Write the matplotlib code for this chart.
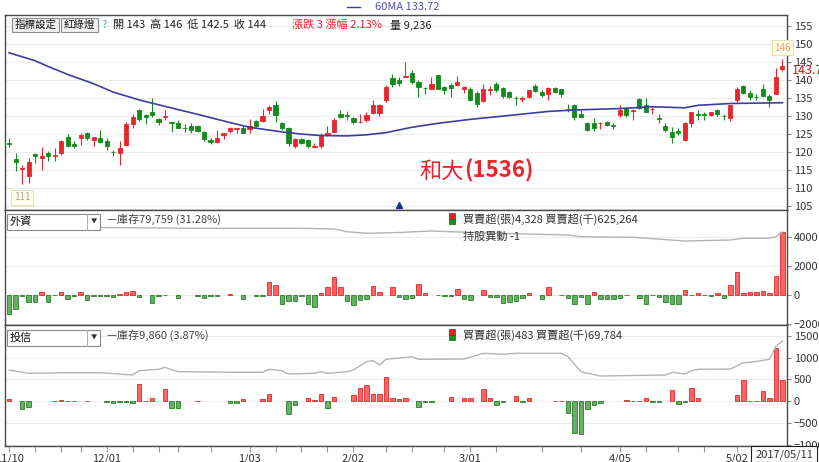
import numpy as np
import matplotlib.pyplot as plt
from matplotlib.patches import Rectangle
from matplotlib.lines import Line2D

plt.rcParams['font.family'] = ['Noto Sans CJK TC', 'DejaVu Sans']

W, H = 820, 462

# daily candles 2016/11/10 - 2017/05/11
opens = [122.4, 118.1, 115.2, 113.3, 119.5, 118.4, 119.7, 119.0, 119.7, 124.1,
         122.2, 123.9, 125.2, 123.4, 124.0, 123.2, 120.1, 119.7, 122.0, 127.7,
         131.8, 130.3, 131.0, 129.2, 129.7, 128.3, 128.0, 126.8, 127.3, 127.2,
         125.7, 123.3, 122.8, 124.8, 125.9, 126.4, 126.6, 126.4, 128.6, 128.6,
         131.7, 133.0, 128.0, 126.6, 121.6, 123.7, 123.3, 121.5, 121.6, 124.8,
         125.7, 130.7, 130.2, 129.5, 128.3, 128.9, 131.0, 131.0, 134.4, 140.6,
         139.9, 141.0, 141.9, 139.6, 137.9, 137.6, 141.3, 138.1, 138.7, 138.7,
         137.4, 137.6, 136.4, 134.1, 137.2, 139.0, 137.8, 136.7, 135.1, 134.8,
         135.3, 138.5, 136.7, 136.2, 137.8, 137.4, 132.0, 133.0, 130.7, 128.0,
         128.2, 128.1, 128.4, 127.4, 130.3, 132.3, 131.4, 134.7, 133.0, 131.9,
         129.4, 127.3, 125.5, 125.9, 123.4, 128.0, 130.5, 130.7, 130.3, 131.7,
         130.1, 129.4, 134.4, 138.5, 136.4, 135.4, 137.6, 135.5, 136.2, 143.0]
highs = [124.0, 119.7, 116.5, 118.3, 119.7, 121.3, 120.2, 121.1, 123.4, 125.0,
         123.1, 125.4, 125.7, 124.3, 126.1, 123.9, 120.6, 123.1, 128.4, 130.5,
         132.1, 130.6, 134.9, 129.4, 131.6, 128.4, 128.9, 127.7, 128.0, 127.4,
         125.9, 123.9, 126.1, 125.4, 127.1, 126.6, 127.3, 129.1, 128.9, 132.1,
         133.2, 134.1, 128.4, 127.1, 123.9, 124.0, 123.7, 122.5, 125.2, 127.3,
         129.4, 131.6, 131.5, 129.8, 130.7, 131.0, 134.4, 133.5, 138.7, 141.7,
         140.8, 145.1, 142.9, 139.9, 138.1, 141.0, 141.5, 138.5, 139.2, 141.1,
         138.5, 138.1, 136.9, 139.0, 138.5, 139.4, 138.1, 136.9, 135.6, 135.6,
         137.6, 139.0, 137.2, 138.0, 138.1, 137.6, 133.5, 133.3, 132.1, 128.3,
         129.5, 128.4, 128.5, 128.0, 133.0, 132.6, 132.1, 135.0, 135.0, 132.6,
         130.5, 128.0, 127.1, 126.8, 128.3, 131.2, 131.7, 131.2, 131.2, 131.9,
         130.7, 133.2, 138.1, 138.7, 137.2, 136.2, 139.0, 136.2, 143.3, 146.0]
lows = [121.3, 114.7, 111.0, 111.5, 117.0, 115.1, 117.6, 117.6, 119.3, 121.6,
        121.1, 122.0, 123.3, 121.6, 122.5, 120.7, 118.8, 116.3, 121.6, 126.6,
        128.6, 127.7, 129.8, 127.5, 128.8, 125.5, 126.6, 125.7, 125.2, 125.7,
        123.1, 122.2, 122.5, 123.7, 125.2, 125.2, 125.2, 125.2, 127.0, 128.3,
        130.7, 128.4, 126.1, 121.8, 121.1, 122.2, 121.1, 121.1, 121.1, 124.6,
        125.5, 129.4, 128.9, 127.7, 128.0, 128.3, 130.7, 130.1, 133.9, 138.1,
        138.5, 140.8, 139.0, 135.3, 136.2, 137.4, 137.4, 136.2, 135.3, 138.5,
        136.5, 134.1, 132.6, 133.8, 136.0, 136.7, 134.9, 135.1, 133.2, 133.9,
        135.0, 136.7, 135.3, 134.4, 136.5, 135.3, 131.2, 128.9, 129.4, 125.9,
        125.9, 126.4, 127.3, 126.4, 129.8, 129.8, 128.9, 132.1, 131.0, 130.7,
        128.0, 125.7, 122.5, 124.8, 123.1, 127.1, 128.9, 128.9, 130.0, 130.1,
        128.9, 128.6, 133.9, 136.2, 134.4, 134.6, 135.3, 132.6, 136.2, 142.5]
closes = [122.2, 117.3, 115.6, 117.2, 118.8, 118.8, 118.8, 119.2, 123.1, 121.8,
          121.8, 124.7, 123.9, 124.1, 122.8, 121.8, 120.0, 121.1, 127.7, 129.7,
          129.1, 129.8, 130.3, 128.3, 129.9, 128.2, 126.8, 126.7, 126.1, 125.9,
          123.7, 122.8, 124.0, 125.2, 126.6, 126.6, 125.4, 127.3, 127.3, 130.1,
          132.6, 130.3, 126.6, 122.5, 123.7, 122.4, 121.6, 121.6, 124.8, 125.2,
          128.9, 129.8, 130.0, 128.3, 128.4, 130.4, 133.0, 133.2, 138.1, 139.0,
          139.2, 141.1, 139.4, 138.1, 137.8, 139.0, 137.6, 137.2, 137.8, 139.6,
          138.1, 134.6, 133.5, 137.6, 137.6, 137.2, 135.6, 135.3, 135.0, 134.9,
          137.2, 136.9, 135.8, 137.8, 136.7, 136.2, 131.9, 129.8, 129.8, 126.1,
          126.8, 128.2, 127.5, 127.3, 131.7, 130.3, 131.8, 132.3, 131.2, 132.0,
          129.3, 126.1, 124.3, 125.2, 128.0, 131.0, 130.4, 130.3, 131.0, 130.7,
          130.0, 133.0, 137.6, 136.5, 135.3, 135.3, 135.6, 134.4, 141.0, 144.0]
volume = 9236

# 60 day moving average, read at these candle numbers
ma_idx = [0, 4, 6, 9, 13, 16, 20, 24, 29, 34, 37, 42, 45, 48, 52, 55, 58, 62,
          66, 71, 76, 83, 87, 94, 99, 104, 106, 111, 119]
ma60 = [147.6, 145.4, 143.8, 141.6, 139.0, 136.7, 134.5, 132.7, 130.5, 128.2,
        126.9, 125.6, 125.0, 124.6, 124.5, 124.8, 125.4, 126.9, 128.0, 129.1,
        130.0, 131.3, 131.7, 132.1, 132.6, 132.3, 133.0, 133.5, 133.72]

# foreign investors (外資) net buy/sell in lots, and holdings
foreign_net = [-1320, -960, -70, -456, -456, 180, -520, -20, 180, -270,
               -70, 230, -320, -90, -90, -110, -180, 45, 230, 270,
               -180, 0, -550, -70, -10, 0, -230, 0, 0, -70,
               -230, -70, -70, 0, 70, 0, -250, 0, -110, -110,
               870, 680, -615, -410, -410, -110, -640, -800, 110, 520,
               1200, 520, -410, -680, -340, -270, 590, 180, 0, 520,
               -180, -300, -230, 740, 115, 0, -40, -70, -70, 390,
               -275, -345, 0, 320, -140, -140, -530, -460, -415, -230,
               115, 0, -275, 550, 0, -40, -185, -645, -140, -645,
               185, -300, -300, -300, -230, 20, 0, -230, -620, -20,
               -140, -505, -645, -645, 320, -20, 140, 20, -70, 140,
               -230, 645, 1540, 140, 230, 185, 300, 115, 1265, 4328]
foreign_hold_idx = [0, 14, 29, 45, 50, 52, 55, 60, 65, 75, 86, 88, 96, 104,
                    111, 113, 117, 118, 119]
foreign_hold = [83400, 83400, 82700, 82700, 82100, 79760, 78370, 79070, 80360,
                78370, 76900, 75430, 74910, 71700, 72570, 74040, 74170, 75431, 79759]
foreign_pct = '31.28%'
foreign_amount = 625264
foreign_change = -1

# investment trust (投信)
trust_net = [50, 0, -175, -130, 0, 0, 0, 15, 40, 15,
             10, 0, 10, 0, 0, -10, -30, -25, -15, -40,
             395, 10, 75, 0, 280, -160, -160, 0, 0, 5,
             0, 0, 0, 0, -40, -40, 55, 0, 0, 55,
             175, 0, 0, -290, -90, 0, 70, 40, 165, -150,
             100, 0, 0, 150, 300, 380, 175, 175, 555, 75,
             60, 75, 0, -130, -15, -5, 0, 0, 100, 0,
             70, 85, 0, 275, 70, -85, -15, 0, 120, -25,
             70, 0, 0, 0, 10, 10, -265, -720, -745, -175,
             -75, -40, 0, 0, 0, 40, 10, 10, 70, -25,
             -25, 0, 250, -60, -10, 300, 75, 0, 0, 0,
             0, 0, 145, 490, 15, 15, 240, 80, 1210, 483]
trust_hold_idx = [0, 3, 9, 14, 19, 20, 23, 24, 26, 35, 39, 40, 42, 43, 47, 48,
                  49, 52, 53, 55, 56, 57, 58, 62, 63, 70, 73, 76, 78, 85, 86,
                  88, 91, 101, 102, 104, 105, 106, 111, 113, 114, 117, 118, 119]
trust_hold = [7105, 6790, 6850, 6850, 6630, 7040, 7170, 7360, 6945, 6890, 6890,
              7170, 7040, 6725, 6790, 6945, 6790, 6945, 7105, 7895, 7990, 7580,
              8120, 8370, 8120, 8150, 8690, 8595, 8690, 8690, 8370, 6945, 6535,
              6630, 6890, 6725, 7040, 7170, 7200, 7800, 7830, 8120, 9377, 9860]
trust_pct = '3.87%'
trust_amount = 69784

date_ticks = [0, 15, 37, 53, 71, 94, 112]
date_labels = ['11/10', '12/01', '1/03', '2/02', '3/01', '4/05', '5/02']
week_ticks = [4, 8, 11, 19, 23, 26, 31, 41, 45, 49, 58, 62, 67, 75, 82, 88,
              98, 103, 107]
last_date = '2017/05/11'
mark_idx = 60

RED = '#e8262d'
GREEN = '#138a1c'


def px(x, y):
    # pixel position measured from the top left -> figure fraction
    return x / W, 1 - y / H


def panel(top, bottom):
    l, t = px(5, top)
    r, b = px(787, bottom)
    return fig.add_axes([l, b, r - l, t - b])


def box(x0, y0, x1, y1, fc, ec, lw=0.8, z=5):
    l, t = px(x0, y0)
    r, b = px(x1, y1)
    fig.add_artist(Rectangle((l, b), r - l, t - b, transform=fig.transFigure,
                             fc=fc, ec=ec, lw=lw, zorder=z))


def label(x, y, s, **kw):
    kw.setdefault('va', 'center')
    kw.setdefault('size', 8)
    kw.setdefault('zorder', 6)
    kw.setdefault('color', '#333333')
    fx, fy = px(x, y)
    fig.text(fx, fy, s, **kw)


fig = plt.figure(figsize=(8.2, 4.62), dpi=100)
ax1 = panel(15, 210)
ax2 = panel(210, 324.5)
ax3 = panel(324.5, 445.5)

x = np.arange(len(closes))
o, h, l, c = (np.array(v) for v in (opens, highs, lows, closes))
col = np.where(c >= o, RED, GREEN)


def net_panel(ax, net, hold_idx, hold, hold_lim):
    net = np.array(net)
    keep = net != 0
    up = net[keep] > 0
    ax.bar(x[keep], net[keep], width=0.64, color=np.where(up, '#ff6262', '#62b262'),
           edgecolor=np.where(up, '#e02a2a', '#2d7d2d'), lw=0.6, zorder=3)
    hx = ax.twinx()
    hx.plot(hold_idx, hold, color='#b4b4b4', lw=1.0)
    hx.set_ylim(*hold_lim)
    hx.set_axis_off()


net_panel(ax2, foreign_net, foreign_hold_idx, foreign_hold, (-600, 98550))
ax2.set_ylim(-2035, 5830)
ax2.set_yticks([-2000, 0, 2000, 4000])

net_panel(ax3, trust_net, trust_hold_idx, trust_hold, (-70, 11430))
ax3.set_ylim(-1008, 1755)
ax3.set_yticks([-1000, -500, 0, 500, 1000, 1500])

for ax in (ax1, ax2, ax3):
    ax.set_xlim(-0.62, 119.7)
    ax.yaxis.tick_right()
    ax.tick_params(axis='y', which='both', left=False, labelleft=False, right=True,
                   labelright=True, direction='out', length=3, width=0.8,
                   color='#888888', labelsize=8, labelcolor='#333333', pad=2)
    ax.tick_params(axis='x', bottom=False, labelbottom=False)
    ax.grid(axis='y', color='#ececec', lw=0.8)
    ax.set_axisbelow(True)
    for s in ax.spines.values():
        s.set_color('#4a4a4a')
        s.set_linewidth(1.0)

# price panel
ax1.vlines(x, l, h, colors=col, lw=0.8, zorder=2)
ax1.bar(x, np.abs(c - o), bottom=np.minimum(o, c), width=0.62, color=col,
        edgecolor=col, lw=0.6, zorder=3)
ax1.plot(ma_idx, ma60, color='#3d3d9e', lw=1.2, zorder=4)
ax1.set_ylim(103.9, 158.1)
ax1.set_yticks(range(105, 160, 5))

ih, il = int(np.argmax(h)), int(np.argmin(l))
ax1.annotate(f'{h[ih]:g}', xy=(ih, h[ih]), xytext=(0, 11), textcoords='offset pixels',
             ha='center', va='center', size=7, color='#f0a070', zorder=6,
             bbox=dict(boxstyle='square,pad=0.25', fc='#fffbe8', ec='#ece0b0', lw=0.8))
ax1.annotate(f'{l[il]:g}', xy=(il, l[il]), xytext=(0, -13), textcoords='offset pixels',
             ha='center', va='center', size=7, color='#a8a890', zorder=6,
             bbox=dict(boxstyle='square,pad=0.3', fc='#fffff0', ec='#e6e2b8', lw=0.8))
ax1.plot(mark_idx, 105.3, marker='^', ms=5, color='#1c2c8c', zorder=5)

ax3.set_xticks(date_ticks, date_labels)
ax3.set_xticks(week_ticks, minor=True)
ax3.tick_params(axis='x', which='both', bottom=True, labelbottom=True, direction='out',
                length=4, width=0.8, color='#999999', labelsize=8,
                labelcolor='#333333', pad=1.5)

# header above the chart
fig.add_artist(Line2D([347 / W, 360 / W], [1 - 6.5 / H, 1 - 6.5 / H],
                      color='#3d3d9e', lw=1.0, transform=fig.transFigure))
label(375, 6.5, f'60MA {ma60[-1]:.2f}', color='#5050a0')

# toolbar inside the price panel
box(12, 18, 59, 32, '#f0f0f0', '#8c8c8c')
label(35.5, 25, '指標設定', ha='center', color='#111111', size=7.6)
box(61, 18, 98, 32, '#f0f0f0', '#8c8c8c')
label(79.5, 25, '紅綠燈', ha='center', color='#111111', size=7.6)
label(102, 25, '?', color='#6a9fd0')
label(113, 25, f'開 {o[-1]:g}  高 {h[-1]:g}  低 {l[-1]:g}  收 {c[-1]:g}', color='#222222')
chg = c[-1] - c[-2]
label(292, 25, f'漲跌 {chg:g} 漲幅 {chg / c[-2] * 100:.2f}%', color='#e8202a')
label(390, 25, f'量 {volume:,}', color='#222222')
label(792, 70, '143.7', color='#c8201e', size=9)

label(464, 171, '和大', ha='right', size=16, color=RED)
label(464, 171, '(1536)', ha='left', size=16, color=RED, weight='bold')


def panel_head(y0, name, hold, pct, net, amount):
    box(7, y0, 100, y0 + 16, 'white', '#8a8a8a', z=5)
    fig.add_artist(Line2D([87 / W, 87 / W], [1 - y0 / H, 1 - (y0 + 16) / H],
                          color='#b0b0b0', lw=0.8, transform=fig.transFigure, zorder=6))
    label(10, y0 + 8, name, color='#111111')
    label(93.5, y0 + 8, '▼', size=4.5, ha='center', color='#333333')
    label(107, y0 + 5, f'—庫存{hold:,} ({pct})', color='#444444')
    box(449, y0 - 1, 455, y0 + 4.5, '#e82020', '#b01010', lw=0.5)
    box(449, y0 + 4.5, 455, y0 + 10, '#1f8f1f', '#106010', lw=0.5)
    label(463, y0 + 5, f'買賣超(張){net:,} 買賣超(千){amount:,}', color='#333333')


panel_head(214, '外資', foreign_hold[-1], foreign_pct, foreign_net[-1], foreign_amount)
label(463, 236.5, f'持股異動 {foreign_change}', color='#333333')
panel_head(330, '投信', trust_hold[-1], trust_pct, trust_net[-1], trust_amount)

box(751, 446, 817, 462, 'white', '#222222', z=7)
label(784, 454.5, last_date, ha='center', zorder=8)

fig.savefig('out.png', dpi=100)
